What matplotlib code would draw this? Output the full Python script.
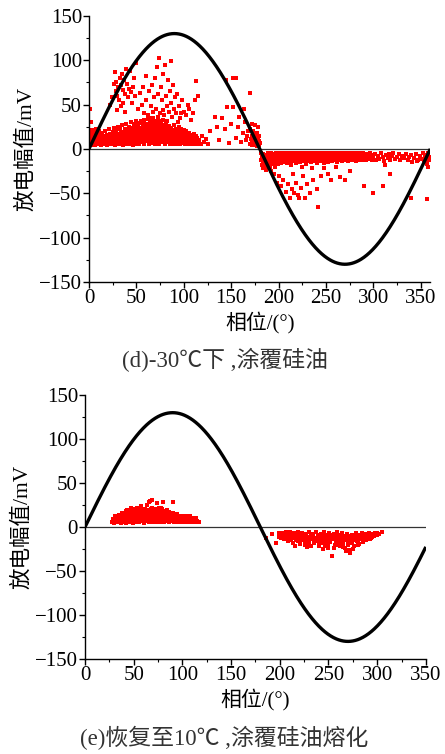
import numpy as np
import matplotlib
matplotlib.use("Agg")
import matplotlib.pyplot as plt
from matplotlib.ticker import MultipleLocator

plt.rcParams['font.family'] = ['Liberation Serif', 'Noto Sans CJK SC', 'DejaVu Sans']

# ---------------- data ----------------
amplitude = 130  # reference sine amplitude (mV)
y_ticks = [-150, -100, -50, 0, 50, 100, 150]
x_ticks = [0, 50, 100, 150, 200, 250, 300, 350]
caption_d = "(d)-30℃下 ,涂覆硅油"
caption_e = "(e)恢复至10℃ ,涂覆硅油熔化"

top_pos_dense = [
(0.5,5),(0.8,12),(1.2,18),(1.5,8),(2.1,15),(2.6,4),(2.9,21),(3.3,10),(3.8,6),(4.2,17),(4.6,13),(5.1,7),(5.5,19),(6.0,11),(6.4,4),(6.9,15),(7.3,9),(7.8,22),(8.2,6),(8.7,13),(9.1,17),(9.6,5),(10.2,10),(10.7,20),(11.3,7),(11.8,14),(12.4,4),(12.9,11),(13.5,18),(14.0,6),(14.6,9),(15.2,15),(15.8,5),(16.3,12),(16.9,20),(17.4,7),(18.0,10),(18.6,16),(19.1,4),(19.7,13),(20.3,8),(20.8,22),(21.4,6),(22.0,11),(22.5,17),(23.1,5),(23.7,14),(24.2,9),(24.8,19),(25.4,6),(26.0,12),(26.5,24),(27.1,4),(27.7,15),(28.3,9),(28.8,20),(29.4,7),(30.0,13),(30.6,25),(31.2,5),(31.7,17),(32.3,10),(32.9,22),(33.5,6),(34.0,14),(34.6,27),(35.2,8),(35.8,19),(36.3,4),(36.9,12),(37.5,23),(38.1,7),(38.6,16),(39.2,28),(39.8,10),(40.4,5),(41.0,20),(41.5,13),(42.1,25),(42.7,8),(43.3,17),(43.9,30),(44.4,6),(45.0,11),(45.6,22),(46.2,15),(46.8,4),(47.3,27),(47.9,9),(48.5,19),(49.1,32),(49.7,13),(50.2,6),(50.8,24),(51.4,16),(52.0,10),(52.6,29),(53.1,5),(53.7,20),(54.3,13),(54.9,31),(55.5,8),(56.1,18),(56.6,25),(57.2,11),(57.8,33),(58.4,6),(59.0,22),(59.5,15),(60.1,28),(60.7,9),(61.3,19),(61.9,34),(62.5,13),(63.0,5),(63.6,24),(64.2,17),(64.8,30),(65.4,10),(66.0,21),(66.5,35),(67.1,7),(67.7,15),(68.3,27),(68.9,12),(69.5,32),(70.0,5),(70.6,19),(71.2,24),(71.8,9),(72.4,36),(72.9,14),(73.5,29),(74.1,6),(74.7,21),(75.3,17),(75.9,31),(76.4,11),(77.0,25),(77.6,8),(78.2,33),(78.8,15),(79.3,20),(79.9,5),(80.5,27),(81.1,12),(81.7,30),(82.3,17),(82.8,8),(83.4,23),(84.0,14),(84.6,26),(85.2,6),(85.7,19),(86.3,10),(86.9,24),(87.5,15),(88.1,5),(88.7,21),(89.2,12),(89.8,27),(90.4,8),(91.0,18),(91.6,23),(92.1,11),(92.7,6),(93.3,20),(93.9,14),(94.5,25),(95.1,9),(95.6,17),(96.2,5),(96.8,22),(97.4,12),(98.0,19),(98.5,7),(99.1,15),(99.7,21),(100.3,10),(100.9,5),(101.5,17),(102.0,13),(102.6,20),(103.2,8),(103.8,15),(104.4,11),(104.9,5),(105.5,18),(106.1,9),(106.7,14),(107.3,6),(107.9,16),(108.4,11),(109.0,5),(109.6,13),(110.2,8),(110.8,17),(111.3,10),(111.9,6),(112.5,14),(113.1,9),(113.7,5),(114.3,12),(114.8,7),(116,10),(118,6),(119,14),(121,8),(123,11),(125,6),
(40,10),(41,16),(42,7),(43,21),(44,14),(45,18),(46,9),(47,13),(48,24),(49,7),(50,17),(51,11),(52,21),(53,14),(54,9),(55,24),(56,13),(57,17),(58,8),(59,26),(60,13),(61,10),(62,21),(63,16),(64,8),(65,25),(66,14),(67,19),(68,9),(69,23),(70,15),(71,12),(72,27),(73,18),(74,10),(75,22),(76,14),(77,18),(78,11),(79,26),(80,16),(81,9),(82,21),(83,12),(84,18),(85,11),(86,16),(87,20),(88,10),(89,17),(90,13),(91,9),(92,16),(93,11),(94,19),(95,13),(96,10),(97,16),(98,12),(99,9),(100,14),(30,9),(32,15),(34,11),(36,17),(38,13),(24,11),(26,16),(28,12),(20,12),(22,15),(18,13),(16,9),(14,13),(12,16),(10,12),(8,15),(6,9),(4,13),(2,11),
(21,9),(23,13),(25,8),(27,18),(29,11),(31,8),(33,16),(35,12),(37,19),(39,8),(41,11),(43,9),(45,14),(47,19),(49,16),(51,8),(53,17),(55,12),(57,21),(59,10),(61,16),(63,20),(65,12),(67,23),(69,17),(71,21),(73,11),(75,14),(77,20),(79,13),(81,22),(83,16),(85,21),(87,9),(89,14),(91,20),(93,16),(95,21),(97,8),(99,18),(101,11),(103,16),(105,12),(107,10),(109,10),(111,12),(44,24),(48,28),(52,25),(56,29),(60,24),(64,27),(68,30),(72,31),(76,27),(80,24),(84,22),(88,18),(92,19),(62,27),(58,18),(54,18),(50,21),(46,18),(42,13),(38,19),(34,18),(30,16),(26,9),(22,7),(18,7),(14,9),(10,7),(6,15),(3,7),(1,14),
]
top_pos_sparse = [
(1,45),(2,30),(26,73),(27,87),(28,65),(29,75),(30,60),(31,70),(32,55),(33,80),(34,72),(35,85),(36,66),(37,78),(38,62),(39,90),(40,73),(41,58),(42,68),(43,88),(44,64),(45,52),(46,70),(47,80),(48,60),(50,97),(52,45),(54,63),(56,50),(58,40),(24,58),(22,50),(34,48),(38,42),(30,44),(36,52),
(60,55),(62,38),(63,65),(65,48),(66,72),(68,35),(69,58),(70,80),(71,45),(72,92),(73,62),(74,102),(75,40),(76,70),(77,55),(78,85),(79,38),(80,95),(81,60),(82,48),(83,78),(84,42),(85,65),(86,99),(87,52),(88,36),(89,72),(90,45),(91,58),(92,40),(93,62),(95,48),(96,35),(98,55),(100,42),(102,38),(104,50),(106,45),(108,33),(110,40),(112,55),(113,77),(115,60),(64,30),(67,42),(78,44),(82,32),(94,30),(97,40),(60,82),(57,70),
(128,20),(133,36),(137,10),(140,35),(143,22),(146,47),(148,7),(150,28),(152,47),(155,12),(157,25),(160,8),(162,18),(165,30),(167,14),(170,22),(172,9),(144,78),(152,80),(155,80),(170,63),(163,45),(158,36),(135,25),
(170,6),(171,11),(172,4),(172,15),(173,8),(173,20),(174,5),(174,12),(175,9),(175,16),(176,4),(176,7),(176,13),(177,10),(177,3),(177,18),(178,6),(178,12),(179,4),(179,9),(179,14),(180,7),(178,25),(175,27),(172,28),(168,20),(166,10),
]
top_neg_dense = [
(181,-5),(181.5,-12),(182,-18),(182.5,-8),(183,-22),(183.5,-14),(184,-6),(184.5,-10),(185,-20),(185.5,-16),(186,-7),(186.5,-12),(187,-24),(187.5,-9),(188,-15),(188.5,-5),(189,-19),(189.5,-11),(190,-7),(190.5,-14),(191,-21),(191.5,-9),(192,-5),(192.5,-13),(193,-17),(193.5,-8),(194,-11),(194.5,-6),(195,-15),(195.5,-10),(196,-19),(196.5,-7),(197,-12),(197.5,-5),(198,-14),(198.5,-9),(199,-17),(199.5,-6),(200,-11),(200.5,-8),(201,-13),(201.5,-5),(202,-10),(202.5,-16),(203,-7),(203.5,-12),(204,-9),(204.5,-5),(205,-14),(205.5,-8),(206,-11),(206.5,-6),(207,-13),(207.5,-9),(208,-5),(208.5,-16),(209,-10),(209.5,-7),(210,-12),(210.5,-5),(211,-9),(211.5,-14),(212,-6),(212.5,-11),(213,-8),(213.5,-18),(214,-5),(214.5,-12),(215,-9),(215.5,-6),(216,-14),(216.5,-10),(217,-7),(217.5,-12),(218,-5),(218.5,-16),(219,-9),(219.5,-6),(220,-11),(220.5,-13),(221,-7),(221.5,-5),(222,-10),(222.5,-15),(223,-8),(223.5,-12),(224,-6),(224.5,-9),(225,-14),(225.5,-5),(226,-11),(226.5,-8),(227,-13),(227.5,-6),(228,-10),(228.5,-17),(229,-7),(229.5,-12),(230,-5),(230.5,-9),(231,-14),(231.5,-8),(232,-11),(232.5,-6),(233,-13),(233.5,-9),(234,-5),(234.5,-15),(235,-10),(235.5,-7),(236,-12),(236.5,-6),(237,-9),(237.5,-14),(238,-5),(238.5,-11),(239,-8),(239.5,-13),(240,-6),(240.5,-10),(241,-16),(241.5,-7),(242,-12),(242.5,-5),(243,-9),(243.5,-14),(244,-8),(244.5,-11),(245,-6),(245.5,-13),(246,-9),(246.5,-5),(247,-12),(247.5,-16),(248,-7),(248.5,-10),(249,-6),(249.5,-14),(250,-9),(250.5,-5),(251,-12),(251.5,-8),(252,-15),(252.5,-6),(253,-10),(253.5,-13),(254,-7),(254.5,-5),(255,-11),(255.5,-9),(256,-14),(256.5,-6),(257,-12),(257.5,-8),(258,-5),(258.5,-10),(259,-13),(259.5,-7),(260,-11),(260.5,-6),(261,-9),(261.5,-15),(262,-5),(262.5,-12),(263,-8),(263.5,-10),(264,-6),(264.5,-13),(265,-9),(265.5,-5),(266,-11),(266.5,-7),(267,-14),(267.5,-9),(268,-6),(268.5,-12),(269,-8),(269.5,-5),(270,-10),(270.5,-13),(271,-7),(271.5,-9),(272,-5),(272.5,-11),(273,-8),(273.5,-14),(274,-6),(274.5,-10),(275,-12),(275.5,-7),(276,-5),(276.5,-9),(277,-13),(277.5,-8),(278,-6),(278.5,-11),(279,-9),(279.5,-5),(280,-12),(280.5,-7),(281,-10),(281.5,-14),(282,-6),(282.5,-9),(283,-5),(283.5,-11),(284,-8),(284.5,-13),(285,-6),(285.5,-10),(286,-7),(286.5,-5),(287,-12),(287.5,-9),(288,-6),(288.5,-11),(289,-8),(289.5,-5),(290,-10),(291,-7),(292,-13),(293,-6),(294,-9),(295,-11),(296,-5),(297,-8),(298,-12),(299,-7),(300,-10),
(190,-10),(193,-7),(196,-12),(199,-9),(202,-7),(205,-11),(208,-9),(211,-7),(214,-10),(217,-8),(220,-7),(223,-10),(226,-7),(229,-9),(232,-8),(235,-12),(238,-8),(241,-10),(244,-7),(247,-10),(250,-8),(253,-7),(256,-9),(259,-8),(262,-10),(265,-7),(268,-9),(271,-11),(274,-8),(277,-10),(280,-8),(283,-7),(286,-10),(289,-12),(292,-8),(295,-7),(298,-10),(206,-15),(212,-13),(218,-10),(224,-12),(230,-11),(236,-10),(242,-9),(248,-12),(254,-10),(260,-13),(266,-12),(272,-10),(278,-13),
(184,-13),(187,-7),(190,-12),(193,-11),(196,-9),(199,-13),(202,-12),(205,-6),(208,-13),(211,-11),(214,-8),(217,-14),(220,-9),(223,-6),(226,-13),(229,-10),(232,-13),(235,-8),(238,-10),(241,-12),(244,-10),(247,-7),(250,-12),(253,-11),(256,-11),(259,-10),(262,-8),(265,-12),(268,-11),(271,-13),(274,-11),(277,-7),(280,-10),(283,-12),(286,-8),(289,-10),(292,-10),(295,-9),(298,-8),
]
top_neg_sparse = [
(302,-6),(303,-13),(305,-8),(306,-11),(308,-5),(310,-9),(311,-14),(313,-7),(315,-10),(316,-6),(318,-12),(320,-8),(321,-5),(323,-11),(325,-9),(327,-6),(328,-13),(330,-8),(332,-10),(334,-6),(336,-12),(338,-9),(340,-7),(341,-15),(343,-10),(345,-6),(347,-12),(349,-8),(351,-11),(352,-5),(354,-9),(355,-14),(356,-7),(357,-11),(358,-5),(359,-9),(359.5,-13),(353,-13),(357,-17),(358,-20),(346,-14),(312,-18),
(186,-20),(188,-22),(190,-18),(192,-25),(195,-28),(198,-38),(200,-30),(203,-42),(205,-35),(208,-48),(210,-40),(212,-55),(214,-45),(216,-50),(218,-38),(220,-52),(222,-55),(224,-44),(226,-30),(228,-55),(230,-40),(233,-50),(236,-35),(240,-45),(242,-65),(245,-30),(248,-22),(252,-28),(255,-35),(260,-20),(265,-32),(270,-35),(275,-25),(290,-42),(300,-50),(310,-42),(317,-28),(340,-55),(357,-57),(196,-20),(215,-28),(225,-20),(235,-22),
]
bot_pos = [
(28,6),(29,9),(30,5),(31,12),(32,7),(33,10),(34,6),(35,14),(35.5,8),(36,11),(37,5),(37.5,15),(38,9),(39,12),(39.5,6),(40,16),(40.5,10),(41,7),(41.5,13),(42,18),(42.5,5),(43,11),(43.5,15),(44,8),(44.5,19),(45,12),(45.5,6),(46,16),(46.5,10),(47,22),(47.5,14),(48,7),(48.5,18),(49,11),(49.5,5),(50,15),(50.5,20),(51,9),(51.5,13),(52,6),(52.5,17),(53,11),(53.5,22),(54,8),(54.5,14),(55,19),(55.5,6),(56,12),(56.5,17),(57,9),(57.5,24),(58,14),(58.5,7),(59,19),(59.5,11),(60,16),(60.5,5),(61,13),(61.5,21),(62,9),(62.5,17),(63,12),(63.5,7),(64,25),(64.5,15),(65,10),(65.5,19),(66,6),(66.5,14),(67,30),(67.5,11),(68,17),(68.5,8),(69,22),(69.5,13),(70,6),(70.5,18),(71,11),(71.5,15),(72,9),(72.5,21),(73,14),(73.5,6),(74,17),(74.5,11),(75,19),(75.5,8),(76,14),(76.5,22),(77,10),(77.5,6),(78,16),(78.5,12),(79,20),(79.5,8),(80,14),(80.5,10),(81,18),(81.5,6),(82,13),(82.5,16),(83,9),(83.5,12),(84,19),(84.5,7),(85,14),(85.5,10),(86,17),(86.5,6),(87,12),(87.5,15),(88,9),(88.5,13),(89,7),(89.5,11),(90,16),(90.5,8),(91,12),(91.5,6),(92,14),(92.5,10),(93,8),(93.5,12),(94,6),(94.5,15),(95,9),(95.5,11),(96,7),(96.5,13),(97,6),(97.5,10),(98,12),(98.5,8),(99,6),(99.5,11),(100,9),(101,7),(102,12),(103,6),(104,10),(105,8),(106,11),(107,6),(108,9),(109,7),(110,10),(111,6),(112,8),(113,6),(115,7),(117,6),(90,28),(80,29),(69,31),(66,29),(74,27),
(40,8),(44,12),(48,14),(52,10),(56,15),(60,10),(64,13),(68,12),(72,16),(76,9),(80,12),(84,11),(88,11),(92,9),(96,9),(100,7),(46,8),(50,11),(54,11),(58,11),(62,14),(66,9),(70,12),(74,14),(78,9),(82,10),(86,13),(90,11),(94,9),(98,9),
(33,8),(36,13),(39,10),(42,9),(45,16),(48,11),(51,16),(54,16),(57,12),(60,20),(63,15),(66,17),(69,10),(72,12),(75,13),(78,19),(81,15),(84,14),(87,9),(90,13),(93,14),(96,11),(99,13),(102,9),(105,11),(108,12),(111,9),(38,16),(43,19),(53,19),(58,21),(62,19),(68,20),(73,19),(78,22),(83,17),(88,16),(94,12),(104,13),(110,7),(114,10),
]
bot_neg = [
(186,-12),(192,-8),(196,-18),(199,-11),(202,-7),(204,-14),(205,-9),(206,-6),(207,-12),(208,-16),(209,-8),(210,-11),(211,-6),(212,-14),(213,-9),(214,-18),(215,-7),(216,-12),(217,-15),(218,-9),(219,-6),(220,-13),(221,-19),(222,-10),(223,-7),(224,-15),(225,-11),(226,-20),(227,-8),(228,-13),(229,-17),(230,-6),(231,-11),(232,-21),(233,-14),(234,-8),(235,-18),(236,-12),(237,-6),(238,-16),(239,-10),(240,-22),(241,-13),(242,-8),(243,-18),(244,-11),(245,-6),(246,-15),(247,-20),(248,-9),(249,-13),(250,-24),(251,-7),(252,-17),(253,-11),(254,-33),(255,-14),(256,-8),(257,-20),(258,-12),(259,-6),(260,-17),(261,-10),(262,-22),(263,-14),(264,-7),(265,-19),(266,-11),(267,-24),(268,-15),(269,-8),(270,-20),(271,-12),(272,-29),(273,-17),(274,-9),(275,-14),(276,-22),(277,-11),(278,-7),(279,-16),(280,-12),(281,-19),(282,-9),(283,-14),(284,-7),(285,-17),(286,-11),(287,-13),(288,-8),(289,-15),(290,-10),(291,-12),(292,-7),(293,-14),(294,-9),(295,-11),(296,-8),(297,-10),(298,-7),(300,-9),(302,-8),(305,-6),(199,-7),(201,-12),(203,-10),(216,-22),(228,-23),(244,-25),(256,-24),(268,-27),(271,-26),(275,-25),
(206,-10),(210,-15),(214,-10),(218,-13),(222,-15),(226,-14),(230,-16),(234,-13),(238,-12),(242,-15),(246,-10),(250,-16),(254,-12),(258,-16),(262,-11),(266,-15),(270,-13),(274,-18),(278,-12),(282,-14),(286,-15),(290,-14),(208,-12),(212,-9),(220,-9),(224,-9),(232,-9),(236,-16),(240,-9),(244,-17),(248,-18),(252,-9),(256,-13),(260,-9),(264,-18),(268,-10),(272,-13),(276,-9),(280,-16),(284,-11),(288,-11),
(204,-11),(207,-8),(210,-8),(213,-12),(216,-9),(219,-16),(222,-12),(225,-8),(228,-17),(231,-14),(234,-11),(237,-15),(240,-12),(243,-10),(246,-13),(249,-9),(252,-13),(255,-11),(258,-10),(261,-14),(264,-11),(267,-13),(270,-10),(273,-12),(276,-15),(279,-10),(282,-12),(285,-9),(288,-14),(291,-9),(294,-12),(297,-9),(300,-7),(230,-20),(240,-19),(250,-20),(260,-20),(270,-17),(280,-20),(226,-17),(246,-22),(265,-23),
]

# ---------------- figure ----------------
fig = plt.figure(figsize=(4.45, 7.54), dpi=100)
ax1 = fig.add_axes([0.200, 0.626, 0.767, 0.353])
ax2 = fig.add_axes([0.191, 0.126, 0.766, 0.350])

CJK = ['Liberation Serif', 'Noto Sans CJK SC']

def style(ax, xmax):
    ax.set_xlim(0, xmax)
    ax.set_ylim(-150, 150)
    ax.set_xticks(x_ticks)
    ax.set_yticks(y_ticks)
    ax.xaxis.set_minor_locator(MultipleLocator(25))
    ax.yaxis.set_minor_locator(MultipleLocator(25))
    for s in ['top', 'right']:
        ax.spines[s].set_visible(False)
    for s in ['left', 'bottom']:
        ax.spines[s].set_linewidth(1.0)
    ax.tick_params(which='major', direction='out', length=4, width=1.0,
                   labelsize=15, pad=1)
    ax.tick_params(which='minor', direction='out', length=2.5, width=0.8)
    for lab in ax.get_xticklabels() + ax.get_yticklabels():
        lab.set_family('Liberation Serif')
    ax.set_xlabel('相位/(°)', fontsize=15, labelpad=2.5, family=CJK)
    ax.set_ylabel('放电幅值/mV', fontsize=15.5, labelpad=2, family=CJK)

def draw(ax, xmax, groups):
    ph = np.linspace(0, xmax, 721)
    ax.axhline(0, color='#333333', lw=0.9, zorder=1)
    for g in groups:
        a = np.array(g, dtype=float)
        ax.scatter(a[:, 0], a[:, 1], s=5.5, marker='s', color='#ff0000',
                   linewidths=0, zorder=2)
    ax.plot(ph, amplitude * np.sin(np.deg2rad(ph)), color='black', lw=2.4,
            zorder=3, solid_capstyle='butt')

draw(ax1, 360, [top_pos_dense, top_pos_sparse, top_neg_dense, top_neg_sparse])
style(ax1, 360)
draw(ax2, 350, [bot_pos, bot_neg])
style(ax2, 350)

fig.text(0.505, 0.523, caption_d, fontsize=16.5, color='#333333',
         ha='center', va='center', family=CJK)
fig.text(0.503, 0.021, caption_e, fontsize=16.5, color='#333333',
         ha='center', va='center', family=CJK)

fig.savefig('out.png', dpi=100)
